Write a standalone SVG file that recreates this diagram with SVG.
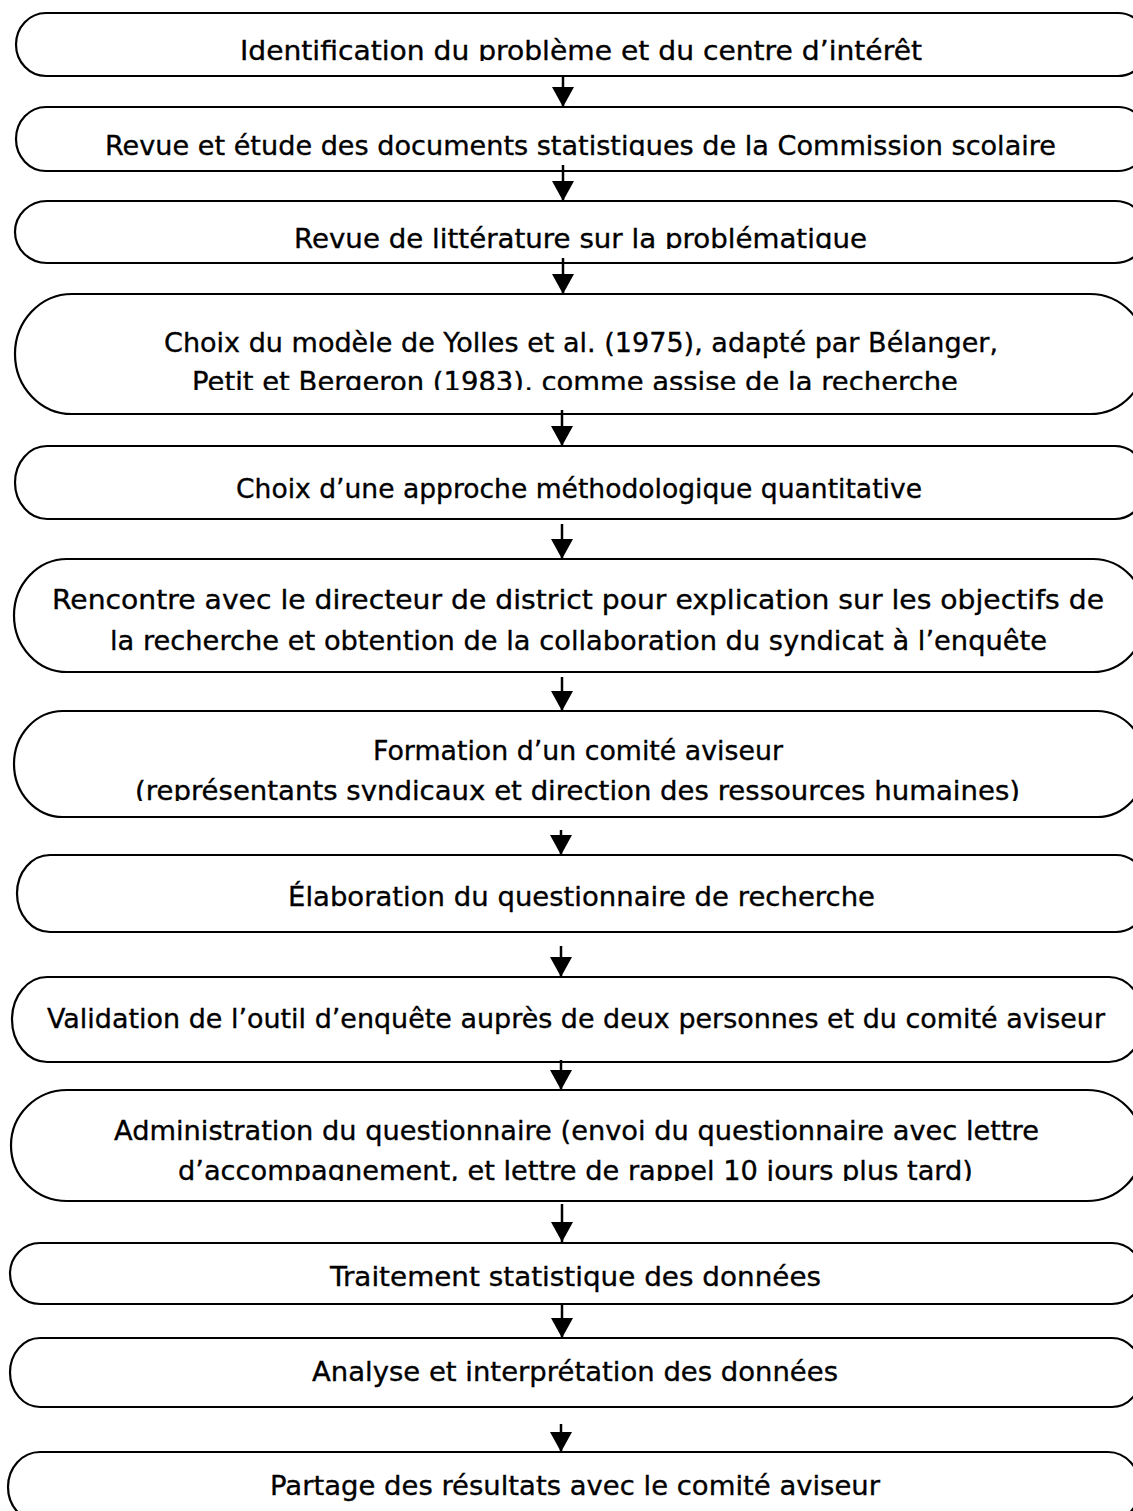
<svg xmlns="http://www.w3.org/2000/svg" width="1133" height="1511" viewBox="0 0 1133 1511">
<style>
.box{fill:#fff;stroke:#000;stroke-width:2.2}
.t{font-family:"DejaVu Sans","Noto Sans",sans-serif;font-size:27px;fill:#000;stroke:#000;stroke-width:0.35;text-anchor:middle}
.arr{stroke:#000;stroke-width:2.5;fill:none}
</style>
<defs>
<marker id="ah" markerUnits="userSpaceOnUse" markerWidth="20" markerHeight="22" refX="20" refY="11" orient="auto">
<path d="M0,0 L20,11 L0,22 Z" fill="#000"/>
</marker>
<clipPath id="c1"><rect x="0" y="0" width="1133" height="61"/></clipPath>
<clipPath id="c2"><rect x="0" y="100" width="1133" height="56"/></clipPath>
<clipPath id="c3"><rect x="0" y="200" width="1133" height="49"/></clipPath>
<clipPath id="c4"><rect x="0" y="360" width="1133" height="30"/></clipPath>
<clipPath id="c7"><rect x="0" y="770" width="1133" height="31"/></clipPath>
<clipPath id="c10"><rect x="0" y="1150" width="1133" height="31"/></clipPath>
</defs>
<rect width="1133" height="1511" fill="#fff"/>

<g id="n1"><rect class="box" x="16" y="13" width="1132" height="63" rx="30" ry="31.5"/>
<text class="t" clip-path="url(#c1)" x="581" y="60" textLength="682" lengthAdjust="spacingAndGlyphs">Identification du problème et du centre d’intérêt</text></g>

<g id="n2"><rect class="box" x="16" y="107" width="1132" height="64" rx="30" ry="32"/>
<text class="t" clip-path="url(#c2)" x="580.5" y="155" textLength="951" lengthAdjust="spacingAndGlyphs">Revue et étude des documents statistiques de la Commission scolaire</text></g>

<g id="n3"><rect class="box" x="15" y="201" width="1132" height="62" rx="32" ry="31"/>
<text class="t" clip-path="url(#c3)" x="580.5" y="248" textLength="573" lengthAdjust="spacingAndGlyphs">Revue de littérature sur la problématique</text></g>

<g id="n4"><rect class="box" x="15" y="294" width="1132" height="120" rx="57" ry="60"/>
<text class="t" x="581" y="352" textLength="834" lengthAdjust="spacingAndGlyphs">Choix du modèle de Yolles et al. (1975), adapté par Bélanger,</text>
<text class="t" clip-path="url(#c4)" x="575" y="391" textLength="766" lengthAdjust="spacingAndGlyphs">Petit et Bergeron (1983), comme assise de la recherche</text></g>

<g id="n5"><rect class="box" x="15" y="446" width="1132" height="73" rx="32" ry="36.5"/>
<text class="t" x="579" y="498" textLength="686" lengthAdjust="spacingAndGlyphs">Choix d’une approche méthodologique quantitative</text></g>

<g id="n6"><rect class="box" x="14" y="559" width="1132" height="113" rx="53" ry="56.5"/>
<text class="t" x="578" y="609" textLength="1052" lengthAdjust="spacingAndGlyphs">Rencontre avec le directeur de district pour explication sur les objectifs de</text>
<text class="t" x="578.5" y="650" textLength="937" lengthAdjust="spacingAndGlyphs">la recherche et obtention de la collaboration du syndicat à l’enquête</text></g>

<g id="n7"><rect class="box" x="14" y="711" width="1132" height="106" rx="49" ry="53"/>
<text class="t" x="578" y="760" textLength="410" lengthAdjust="spacingAndGlyphs">Formation d’un comité aviseur</text>
<text class="t" clip-path="url(#c7)" x="577.5" y="800" textLength="885" lengthAdjust="spacingAndGlyphs">(représentants syndicaux et direction des ressources humaines)</text></g>

<g id="n8"><rect class="box" x="17" y="855" width="1132" height="77" rx="33" ry="38.5"/>
<text class="t" x="581.5" y="906" textLength="587" lengthAdjust="spacingAndGlyphs">Élaboration du questionnaire de recherche</text></g>

<g id="n9"><rect class="box" x="12" y="977" width="1132" height="85" rx="35" ry="42.5"/>
<text class="t" x="576" y="1028" textLength="1058" lengthAdjust="spacingAndGlyphs">Validation de l’outil d’enquête auprès de deux personnes et du comité aviseur</text></g>

<g id="n10"><rect class="box" x="11" y="1090" width="1132" height="111" rx="56" ry="55.5"/>
<text class="t" x="576.5" y="1140" textLength="925" lengthAdjust="spacingAndGlyphs">Administration du questionnaire (envoi du questionnaire avec lettre</text>
<text class="t" clip-path="url(#c10)" x="575.5" y="1180" textLength="795" lengthAdjust="spacingAndGlyphs">d’accompagnement, et lettre de rappel 10 jours plus tard)</text></g>

<g id="n11"><rect class="box" x="10" y="1243" width="1132" height="61" rx="30" ry="30.5"/>
<text class="t" x="575.5" y="1286" textLength="491" lengthAdjust="spacingAndGlyphs">Traitement statistique des données</text></g>

<g id="n12"><rect class="box" x="10" y="1338" width="1132" height="69" rx="30" ry="34.5"/>
<text class="t" x="575" y="1381" textLength="526" lengthAdjust="spacingAndGlyphs">Analyse et interprétation des données</text></g>

<g id="n13"><rect class="box" x="8" y="1452" width="1132" height="70" rx="32" ry="35"/>
<text class="t" x="575" y="1495" textLength="610" lengthAdjust="spacingAndGlyphs">Partage des résultats avec le comité aviseur</text></g>

<g id="connectors">
<line class="arr" x1="563" y1="76" x2="563" y2="107" marker-end="url(#ah)"/>
<line class="arr" x1="563" y1="165" x2="563" y2="201" marker-end="url(#ah)"/>
<line class="arr" x1="563" y1="258" x2="563" y2="294" marker-end="url(#ah)"/>
<line class="arr" x1="562" y1="410" x2="562" y2="446" marker-end="url(#ah)"/>
<line class="arr" x1="562" y1="524" x2="562" y2="559" marker-end="url(#ah)"/>
<line class="arr" x1="562" y1="677" x2="562" y2="711" marker-end="url(#ah)"/>
<line class="arr" x1="561" y1="830" x2="561" y2="855" marker-end="url(#ah)"/>
<line class="arr" x1="561" y1="946" x2="561" y2="977" marker-end="url(#ah)"/>
<line class="arr" x1="561" y1="1060" x2="561" y2="1090" marker-end="url(#ah)"/>
<line class="arr" x1="562" y1="1204" x2="562" y2="1242" marker-end="url(#ah)"/>
<line class="arr" x1="562" y1="1304" x2="562" y2="1338" marker-end="url(#ah)"/>
<line class="arr" x1="561" y1="1424" x2="561" y2="1452" marker-end="url(#ah)"/>
</g>
</svg>
